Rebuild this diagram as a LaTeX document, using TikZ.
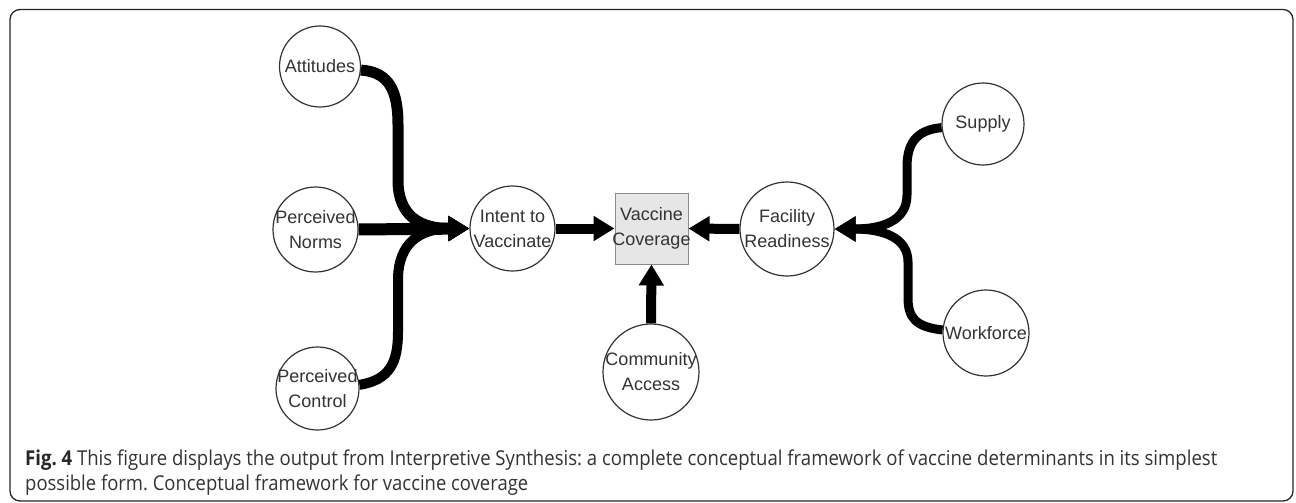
\documentclass[tikz,border=0pt]{standalone}
\usepackage{fontspec}
\setmainfont{Liberation Sans}
\newfontfamily\capfont{Open Sans}
\usetikzlibrary{arrows.meta}
\definecolor{txtgray}{HTML}{333333}
\definecolor{boxfill}{HTML}{E6E6E6}
\definecolor{boxline}{HTML}{8C8C8C}
\frenchspacing
\begin{document}
\begin{tikzpicture}[x=1pt,y=-1pt,
  circ/.style={circle, draw=txtgray, line width=1.2pt, inner sep=0pt, fill=white},
  lbl/.style={font=\fontsize{18}{25}\selectfont, text=txtgray, align=center, inner sep=0pt},
  conn/.style={line width=10pt, black, -{Triangle[length=21pt,width=24pt]}},
  capline/.style={anchor=base west, inner sep=0pt, text=txtgray, font=\capfont\fontsize{20.5}{25}\selectfont},
  frame/.style={draw=black!85, line width=1.3pt, rounded corners=10pt}
  ]
\useasboundingbox (0,0) rectangle (1296,503);
\draw[frame] (10,9.5) rectangle (1293,501);

% nodes
\node[circ, minimum size=81pt] (att) at (320,66.5) {};
\node[lbl] (att-t) at (att) {Attitudes};
\node[circ, minimum size=85pt] (pn) at (315.5,229.5) {};
\node[lbl] (pn-t) at (pn) {Perceived\\Norms};
\node[circ, minimum size=83pt] (pc) at (317.5,388.5) {};
\node[lbl] (pc-t) at (pc) {Perceived\\Control};
\node[circ, minimum size=85pt] (intent) at (512.5,228.5) {};
\node[lbl] (intent-t) at (intent) {Intent to\\Vaccinate};
\node[draw=boxline, fill=boxfill, line width=1pt, minimum width=73pt, minimum height=71pt, inner sep=0pt] (vc) at (651.5,228.5) {};
\node[lbl] (vc-t) at (vc) {Vaccine\\Coverage};
\node[circ, minimum size=94pt] (fac) at (787,229) {};
\node[lbl] (fac-t) at (fac) {Facility\\Readiness};
\node[circ, minimum size=96pt] (ca) at (651,372) {};
\node[lbl] (ca-t) at (ca) {Community\\Access};
\node[circ, minimum size=82pt] (sup) at (983,124) {};
\node[lbl] (sup-t) at (sup) {Supply};
\node[circ, minimum size=86pt] (wf) at (986,333) {};
\node[lbl] (wf-t) at (wf) {Workforce};

% connectors
\draw[conn, line width=11pt] (att.-5) .. controls (390,72) and (398,92) .. (398,125) -- (398,180) .. controls (398,216) and (420,228.5) .. (intent.west);
\draw[conn, line width=12pt] (pn.east) -- (intent.west);
\draw[conn, line width=10pt] (pc.5) .. controls (390,380) and (398,362) .. (398,332) -- (398,280) .. controls (398,243) and (420,228.5) .. (intent.west);
\draw[conn] (intent.east) -- (vc.west);
\draw[conn] (fac.west) -- (vc.east);
\draw[conn] (ca.north) -- (vc.south);
\draw[conn, line width=9pt] (sup.185) .. controls (915,130) and (907,145) .. (907,167) -- (907,195) .. controls (907,222) and (880,229) .. (fac.east);
\draw[conn, line width=9pt] (wf.176) .. controls (916,327) and (908,318) .. (908,298) -- (908,262) .. controls (908,236) and (880,229) .. (fac.east);

% caption
\node[capline] (cap1) at (25,465) {\resizebox{1192pt}{\height}{\textcolor{black!85}{\textbf{Fig. 4}} This figure displays the output from Interpretive Synthesis: a complete conceptual framework of vaccine determinants in its simplest}};
\node[capline] (cap2) at (25,490) {\resizebox{503pt}{\height}{possible form. Conceptual framework for vaccine coverage}};
\end{tikzpicture}
\end{document}
